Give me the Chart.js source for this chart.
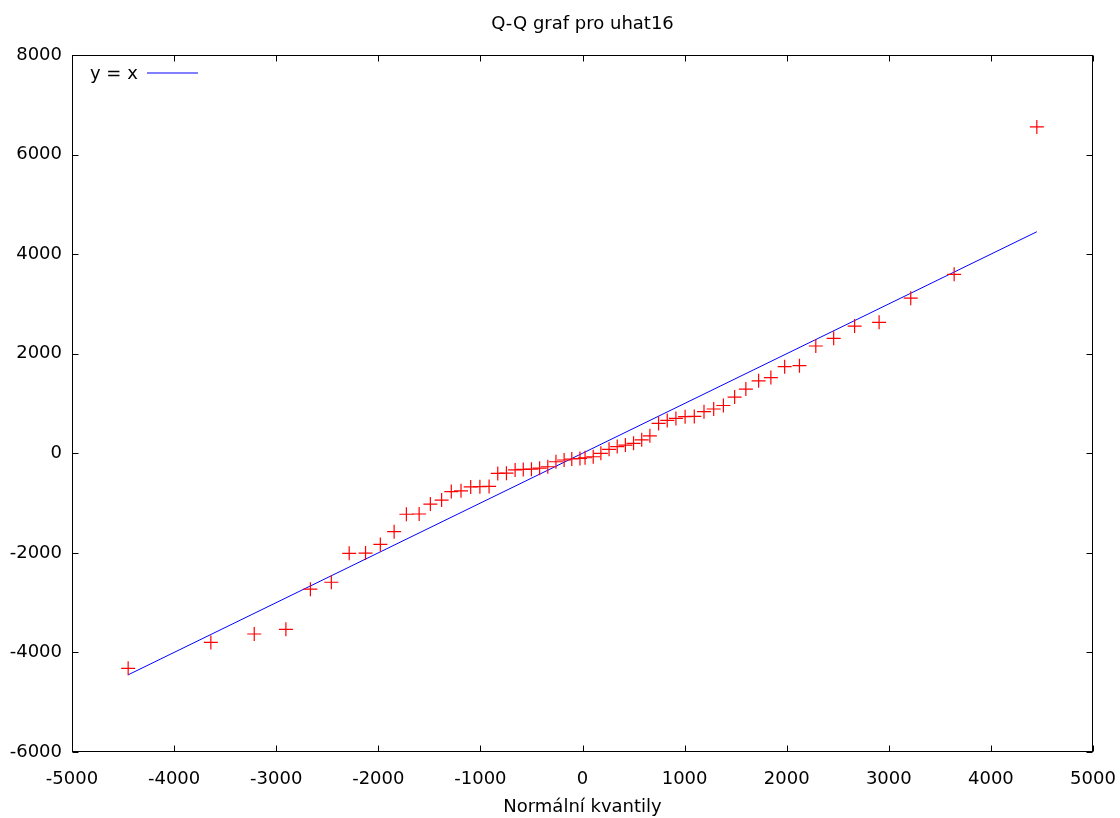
<!DOCTYPE html>
<html>
<head>
<meta charset="utf-8">
<script src="https://cdn.jsdelivr.net/npm/chart.js@4/dist/chart.umd.min.js"></script>
<style>
  body { margin: 0; background: #fff; }
  #wrap { width: 1120px; height: 818px; }
</style>
</head>
<body>
<div id="wrap"><canvas id="qq" width="1120" height="818"></canvas></div>
<script>
// normal quantiles (x) and sorted residuals uhat16 (y)
const quantX = [
  -4450, -3640, -3215, -2905, -2665, -2460, -2285, -2125, -1980, -1845,
  -1725, -1600, -1490, -1380, -1285, -1190, -1095, -1005, -915, -830,
  -745, -660, -580, -500, -420, -340, -260, -180, -105, -25,
  25, 105, 180, 260, 340, 420, 500, 580, 660, 745,
  830, 915, 1005, 1095, 1190, 1285, 1380, 1490, 1600, 1725,
  1845, 1980, 2125, 2285, 2460, 2665, 2905, 3215, 3640, 4450
];
const uhatY = [
  -4320, -3800, -3630, -3535, -2730, -2590, -2010, -2005, -1830, -1575,
  -1225, -1220, -1020, -940, -770, -755, -675, -670, -665, -405,
  -400, -335, -325, -320, -300, -270, -170, -135, -115, -105,
  -90, -70, 0, 80, 135, 165, 200, 270, 350, 600,
  660, 700, 735, 740, 835, 890, 960, 1130, 1290, 1455,
  1520, 1740, 1760, 2155, 2310, 2555, 2630, 3115, 3595, 6555
];
// reference line y = x
const lineX = [-4450, 4450];
const lineY = [-4450, 4450];

const xTicks = [-5000, 5000, 1000];   // min, max, step
const yTicks = [-6000, 8000, 2000];

const FONT = "'DejaVu Sans', Verdana, sans-serif";
Chart.defaults.font.family = FONT;
Chart.defaults.font.size = 18;
Chart.defaults.color = "#000";

// gnuplot-like frame: full border box, inward ticks on all sides, key top-left
const frame = {
  id: "frame",
  afterDraw(chart) {
    const { ctx, chartArea: a, scales } = chart;
    const L = Math.round(a.left) + 0.5, R = Math.round(a.right) - 0.5;
    const T = Math.round(a.top) + 0.5, B = Math.round(a.bottom) - 0.5;
    ctx.save();
    ctx.strokeStyle = "#000";
    ctx.lineWidth = 1;
    ctx.beginPath();
    scales.x.ticks.forEach((t) => {
      const px = Math.round(scales.x.getPixelForValue(t.value)) + 0.5;
      ctx.moveTo(px, B); ctx.lineTo(px, B - 6);
      ctx.moveTo(px, T); ctx.lineTo(px, T + 6);
    });
    scales.y.ticks.forEach((t) => {
      const py = Math.round(scales.y.getPixelForValue(t.value)) + 0.5;
      ctx.moveTo(L, py); ctx.lineTo(L + 6, py);
      ctx.moveTo(R, py); ctx.lineTo(R - 6, py);
    });
    ctx.stroke();
    ctx.strokeRect(L, T, R - L, B - T);

    // key
    ctx.font = "18px " + FONT;
    ctx.fillStyle = "#000";
    ctx.textBaseline = "middle";
    ctx.textAlign = "left";
    ctx.fillText("y = x", 90, 74);
    ctx.strokeStyle = "#0000ff";
    ctx.beginPath();
    ctx.moveTo(147, 73); ctx.lineTo(198, 73);
    ctx.stroke();
    ctx.restore();
  },
};

new Chart(document.getElementById("qq"), {
  type: "scatter",
  data: {
    datasets: [
      {
        label: "uhat16",
        data: quantX.map((x, i) => ({ x: x, y: uhatY[i] })),
        pointStyle: "cross",
        pointRadius: 7,
        pointBorderWidth: 1.2,
        borderColor: "#ff0000",
        backgroundColor: "#ff0000",
      },
      {
        label: "y = x",
        type: "line",
        data: lineX.map((x, i) => ({ x: x, y: lineY[i] })),
        borderColor: "#0000ff",
        borderWidth: 1,
        pointRadius: 0,
        fill: false,
      },
    ],
  },
  options: {
    responsive: false,
    animation: false,
    layout: { padding: { left: 0, right: 27, top: 0, bottom: 0 } },
    plugins: {
      legend: { display: false },
      tooltip: { enabled: false },
      title: {
        display: true,
        fullSize: false,
        text: "Q-Q graf pro uhat16",
        font: { size: 18, weight: "normal" },
        color: "#000",
        padding: { top: 13.5, bottom: 19.9 },
      },
    },
    scales: {
      x: {
        type: "linear",
        min: xTicks[0],
        max: xTicks[1],
        ticks: { stepSize: xTicks[2], padding: 17, maxRotation: 0, callback: (v) => String(v) },
        grid: { display: false, drawTicks: false },
        border: { display: false },
        title: {
          display: true,
          text: "Normální kvantily",
          font: { size: 18 },
          padding: { top: 0, bottom: 0 },
        },
        afterFit: (s) => { s.height = 66; s.paddingLeft = 0; s.paddingRight = 0; },
      },
      y: {
        type: "linear",
        min: yTicks[0],
        max: yTicks[1],
        ticks: { stepSize: yTicks[2], padding: 10, callback: (v) => String(v) },
        grid: { display: false, drawTicks: false },
        border: { display: false },
        afterFit: (s) => { s.width = 72; s.paddingTop = 0; s.paddingBottom = 0; },
      },
    },
  },
  plugins: [frame],
});
</script>
</body>
</html>
